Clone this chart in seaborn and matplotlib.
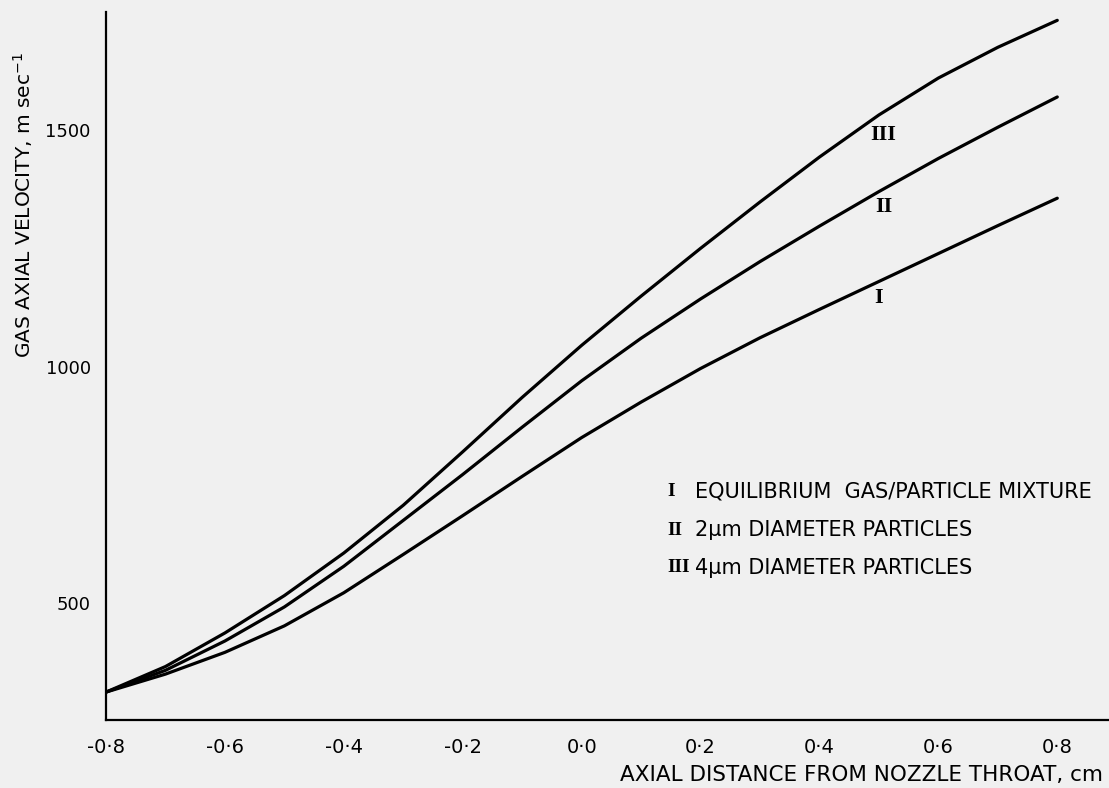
import numpy as np
import pandas as pd
import seaborn as sns
import matplotlib
matplotlib.use("Agg")
import matplotlib.pyplot as plt

# ---- data ----
x_cm = [-0.8, -0.7, -0.6, -0.5, -0.4, -0.3, -0.2, -0.1, 0.0, 0.1, 0.2, 0.3, 0.4, 0.5, 0.6, 0.7, 0.8]
vel_I = [312, 350, 396, 452, 522, 603, 685, 768, 850, 925, 996, 1061, 1121, 1180, 1239, 1298, 1356]
vel_II = [312, 358, 420, 492, 578, 675, 772, 872, 970, 1060, 1143, 1222, 1297, 1370, 1440, 1506, 1570]
vel_III = [312, 366, 437, 516, 606, 707, 820, 935, 1045, 1149, 1250, 1348, 1443, 1532, 1610, 1675, 1732]

series_names = ["I", "II", "III"]
legend_numerals = ["I", "II", "III"]
legend_desc = ["EQUILIBRIUM  GAS/PARTICLE MIXTURE",
               "2\u00b5m DIAMETER PARTICLES",
               "4\u00b5m DIAMETER PARTICLES"]
x_ticks = [-0.8, -0.6, -0.4, -0.2, 0.0, 0.2, 0.4, 0.6, 0.8]
x_tick_labels = ["-0\u00b78", "-0\u00b76", "-0\u00b74", "-0\u00b72", "0\u00b70", "0\u00b72", "0\u00b74", "0\u00b76", "0\u00b78"]
y_ticks = [500, 1000, 1500]
y_tick_labels = ["500", "1000", "1500"]
label_pos = {"III": (0.508, 1489), "II": (0.508, 1337), "I": (0.500, 1145)}

df = pd.DataFrame({
    "x": x_cm * 3,
    "v": vel_I + vel_II + vel_III,
    "curve": sum([[n] * len(x_cm) for n in series_names], []),
})

sns.set_style("white")
plt.rcParams["font.family"] = ["DejaVu Sans"]
bg = "#f0f0f0"

fig = plt.figure(figsize=(11.09, 7.88), dpi=100, facecolor=bg)
ax = fig.add_axes([0.0956, 0.0863, 1 - 0.0956, 0.985 - 0.0863])
ax.set_facecolor(bg)

sns.lineplot(data=df, x="x", y="v", hue="curve", units="curve", estimator=None,
             palette={"I": "black", "II": "black", "III": "black"},
             linewidth=2.3, legend=False, ax=ax, sort=False)

ax.set_xlim(-0.8, 0.887)
ax.set_ylim(253, 1750)
for s in ["top", "right"]:
    ax.spines[s].set_visible(False)
for s in ["left", "bottom"]:
    ax.spines[s].set_color("black")
    ax.spines[s].set_linewidth(1.6)

ax.set_xticks(x_ticks)
ax.set_xticklabels(x_tick_labels, fontsize=14)
ax.set_yticks(y_ticks)
ax.set_yticklabels(y_tick_labels, fontsize=13)
ax.tick_params(axis="x", direction="out", length=4, width=1.4, pad=9, colors="black")
ax.tick_params(axis="y", direction="out", length=8, width=1.4, pad=3, colors="black")

ax.set_xlabel("AXIAL DISTANCE FROM NOZZLE THROAT, cm", fontsize=15.5, color="black")
ax.xaxis.label.set_ha("right")
ax.xaxis.set_label_coords(0.994, -0.064)
ax.set_ylabel("GAS AXIAL VELOCITY, m sec$^{-1}$", fontsize=14.5, color="black")
ax.yaxis.set_label_coords(-0.071, 0.727)

for name in series_names:
    px, py = label_pos[name]
    ax.text(px, py, name, fontsize=16, fontweight="bold", family="Liberation Serif",
            ha="center", va="center", color="black")

ys = [0.322, 0.268, 0.215]
for num, desc, yy in zip(legend_numerals, legend_desc, ys):
    ax.text(0.560, yy, num, transform=ax.transAxes, fontsize=14, fontweight="bold",
            family="Liberation Serif", ha="left", va="center", color="black")
    ax.text(0.587, yy, desc, transform=ax.transAxes, fontsize=15,
            ha="left", va="center", color="black")

fig.savefig("out.png", dpi=100, facecolor=bg)
